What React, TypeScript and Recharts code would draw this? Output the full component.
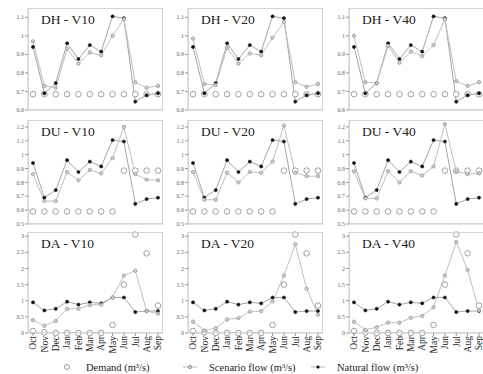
import React from "react";
import { LineChart, Line, XAxis, YAxis } from "recharts";

const months = ["Oct", "Nov", "Dec", "Jan", "Feb", "Mar", "Apr", "May", "Jun", "Jul", "Aug", "Sep"];

// natural flow is the same in every panel
const naturalFlow = [0.94, 0.69, 0.745, 0.96, 0.875, 0.95, 0.915, 1.105, 1.095, 0.645, 0.68, 0.69];
const naturalFlowDA = [0.95, 0.7, 0.75, 0.97, 0.88, 0.95, 0.92, 1.1, 1.1, 0.65, 0.68, 0.68];

const demandDH = [0.685, 0.685, 0.685, 0.685, 0.685, 0.685, 0.685, 0.685, 0.685, 0.685, 0.685, 0.685];
const demandDU = [0.59, 0.59, 0.59, 0.59, 0.59, 0.59, 0.59, 0.59, 0.885, 0.885, 0.885, 0.885];
const demandDA = [0.06, 0.02, 0.0, 0.0, 0.0, 0.0, 0.0, 0.25, 1.5, 3.05, 2.47, 0.85];

const scenarioDH10 = [0.97, 0.73, 0.72, 0.93, 0.85, 0.91, 0.895, 1.0, 1.09, 0.75, 0.72, 0.73];
const scenarioDH20 = [0.985, 0.74, 0.735, 0.935, 0.85, 0.905, 0.895, 0.99, 1.075, 0.75, 0.725, 0.74];
const scenarioDH40 = [1.0, 0.75, 0.745, 0.945, 0.855, 0.915, 0.89, 0.95, 1.09, 0.755, 0.73, 0.75];

const scenarioDU10 = [0.86, 0.665, 0.665, 0.875, 0.815, 0.89, 0.865, 0.975, 1.2, 0.86, 0.82, 0.815];
const scenarioDU20 = [0.875, 0.675, 0.675, 0.87, 0.8, 0.875, 0.87, 0.95, 1.21, 0.87, 0.845, 0.845];
const scenarioDU40 = [0.88, 0.685, 0.685, 0.88, 0.8, 0.88, 0.85, 0.915, 1.22, 0.88, 0.86, 0.865];

const scenarioDA10 = [0.4, 0.22, 0.37, 0.75, 0.75, 0.87, 0.88, 1.1, 1.78, 1.93, 0.68, 0.6];
const scenarioDA20 = [0.35, 0.08, 0.15, 0.42, 0.46, 0.66, 0.68, 0.98, 1.78, 2.75, 1.37, 0.57];
const scenarioDA40 = [0.35, 0.1, 0.18, 0.32, 0.32, 0.47, 0.53, 0.8, 1.78, 2.82, 1.95, 0.7];

const ticksDH = [0.6, 0.7, 0.8, 0.9, 1, 1.1];
const ticksDU = [0.5, 0.6, 0.7, 0.8, 0.9, 1, 1.1, 1.2];
const ticksDA = [0, 0.5, 1, 1.5, 2, 2.5, 3];

const FONT = '"Liberation Serif", "DejaVu Serif", serif';

const build = (demand: number[], scenario: number[], natural: number[]) =>
    months.map((m, i) => ({ m, demand: demand[i], scenario: scenario[i], natural: natural[i] }));

const colLeft = [28, 188, 349];
const boxW = 135;
const rows = [
    { top: 8, h: 102, ticks: ticksDH, domain: [0.6, 1.15], labels: false },
    { top: 120, h: 104, ticks: ticksDU, domain: [0.5, 1.25], labels: false },
    { top: 232, h: 101, ticks: ticksDA, domain: [0, 3.13], labels: true },
];

const panels = [
    { row: 0, col: 0, title: "DH - V10", data: build(demandDH, scenarioDH10, naturalFlow) },
    { row: 0, col: 1, title: "DH - V20", data: build(demandDH, scenarioDH20, naturalFlow) },
    { row: 0, col: 2, title: "DH - V40", data: build(demandDH, scenarioDH40, naturalFlow) },
    { row: 1, col: 0, title: "DU - V10", data: build(demandDU, scenarioDU10, naturalFlow) },
    { row: 1, col: 1, title: "DU - V20", data: build(demandDU, scenarioDU20, naturalFlow) },
    { row: 1, col: 2, title: "DU - V40", data: build(demandDU, scenarioDU40, naturalFlow) },
    { row: 2, col: 0, title: "DA - V10", data: build(demandDA, scenarioDA10, naturalFlowDA) },
    { row: 2, col: 1, title: "DA - V20", data: build(demandDA, scenarioDA20, naturalFlowDA) },
    { row: 2, col: 2, title: "DA - V40", data: build(demandDA, scenarioDA40, naturalFlowDA) },
];

const YW = 22;
const MT = 4;
const MR = 3;

const MonthTick = (props: any) => {
    const { x, y, payload } = props;
    return (
        <text
            x={x}
            y={y - 2}
            dy="0.35em"
            textAnchor="end"
            transform={`rotate(-90, ${x}, ${y - 2})`}
            fontSize={9.5}
            fontFamily={FONT}
            fill="#222"
        >
            {payload.value}
        </text>
    );
};

function Panel({ row, col, title, data }: { row: number; col: number; title: string; data: any[] }) {
    const r = rows[row];
    const left = colLeft[col];
    const xh = r.labels ? 30 : 4;
    return (
        <>
            <div style={{ position: "absolute", left: left - YW, top: r.top - MT }}>
                <LineChart
                    width={YW + boxW + MR}
                    height={MT + r.h + xh}
                    data={data}
                    margin={{ top: MT, right: MR, bottom: 0, left: 0 }}
                >
                    <XAxis
                        dataKey="m"
                        height={xh}
                        interval={0}
                        padding={{ left: 5, right: 5 }}
                        tickSize={3}
                        stroke="#c8c8c8"
                        tickLine={{ stroke: "#999" }}
                        tick={r.labels ? <MonthTick /> : false}
                    />
                    <YAxis
                        width={YW}
                        domain={r.domain}
                        ticks={r.ticks}
                        type="number"
                        tickSize={3}
                        tickMargin={1}
                        stroke="#c8c8c8"
                        tickLine={{ stroke: "#999" }}
                        tick={{ fontSize: 6, fill: "#666", fontFamily: FONT }}
                    />
                    <Line
                        dataKey="demand"
                        stroke="none"
                        isAnimationActive={false}
                        dot={{ r: 2.8, stroke: "#a0a0a0", fill: "#fff", strokeWidth: 1 }}
                    />
                    <Line
                        dataKey="natural"
                        stroke="#a5a5a5"
                        strokeWidth={1}
                        isAnimationActive={false}
                        dot={{ r: 1.6, stroke: "#111", fill: "#111", strokeWidth: 0.5 }}
                    />
                    <Line
                        dataKey="scenario"
                        stroke="#c0c0c0"
                        strokeWidth={1}
                        isAnimationActive={false}
                        dot={{ r: 1.7, stroke: "#999", fill: "#cfcfcf", strokeWidth: 0.8 }}
                    />
                </LineChart>
            </div>
            <div
                style={{
                    position: "absolute",
                    left,
                    top: r.top,
                    width: boxW,
                    height: r.h,
                    border: "1px solid #d2d2d2",
                    boxSizing: "border-box",
                    pointerEvents: "none",
                }}
            />
            <div
                style={{
                    position: "absolute",
                    left: left + 13,
                    top: r.top + 4,
                    fontFamily: FONT,
                    fontSize: 13.5,
                    color: "#222",
                    lineHeight: "16px",
                    whiteSpace: "nowrap",
                }}
            >
                {title}
            </div>
        </>
    );
}

function LegendItem({ x, kind, label }: { x: number; kind: string; label: string }) {
    return (
        <div style={{ position: "absolute", left: x, top: 360, display: "flex", alignItems: "center" }}>
            <svg width={18} height={14}>
                {kind !== "demand" && <line x1={2} x2={16} y1={7} y2={7} stroke="#bbb" strokeWidth={1} />}
                {kind === "demand" && <circle cx={9} cy={7} r={2.5} fill="#fff" stroke="#9a9a9a" />}
                {kind === "scenario" && <circle cx={9} cy={7} r={1.7} fill="#cfcfcf" stroke="#999" />}
                {kind === "natural" && <circle cx={9} cy={7} r={1.6} fill="#111" />}
            </svg>
            <span style={{ marginLeft: 10, fontFamily: FONT, fontSize: 10.5, color: "#222", whiteSpace: "nowrap" }}>
                {label}
            </span>
        </div>
    );
}

export default function App() {
    return (
        <div
            style={{
                position: "fixed",
                left: 0,
                top: 0,
                width: 483,
                height: 374,
                background: "#fff",
                overflow: "hidden",
            }}
        >
            {panels.map((p) => (
                <Panel key={p.title} {...p} />
            ))}
            <LegendItem x={58} kind="demand" label="Demand (m³/s)" />
            <LegendItem x={181} kind="scenario" label="Scenario flow (m³/s)" />
            <LegendItem x={309} kind="natural" label="Natural flow (m³/s)" />
        </div>
    );
}
